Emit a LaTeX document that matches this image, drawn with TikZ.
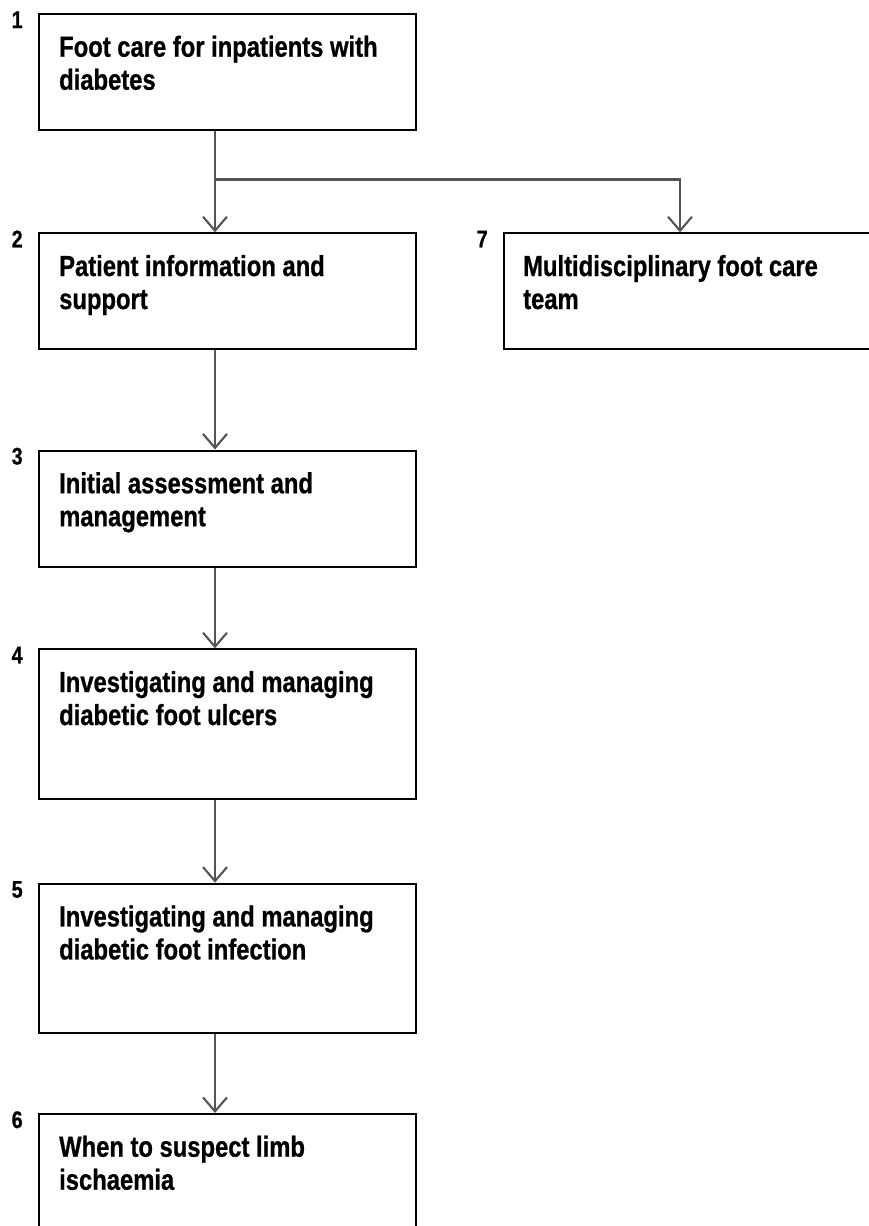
\documentclass[tikz,border=0pt]{standalone}
\usepackage{fontspec}
\setmainfont{Liberation Sans}[FakeStretch=0.82,BoldFeatures={FakeBold=0.8}]
\usetikzlibrary{arrows.meta,calc}
\definecolor{arrgray}{HTML}{555555}
\begin{document}
\begin{tikzpicture}[x=1pt,y=-1pt,
  box/.style={draw=black,line width=2pt,rectangle,inner sep=0pt,anchor=north west},
  boxtext/.style={anchor=north west,inner sep=0pt,align=left,
    font=\fontsize{29}{33}\selectfont\bfseries},
  numlabel/.style={anchor=base west,inner sep=0pt,font=\fontsize{24}{26}\selectfont\bfseries},
  arr/.style={draw=arrgray,line width=2.1pt,-{Straight Barb[length=14pt,width=24pt,line width=2.1pt]}},
  conn/.style={draw=arrgray,line width=2.1pt}]
\useasboundingbox (0,0) rectangle (869,1226);
\clip (0,0) rectangle (869,1226);
% boxes
\node[box,minimum width=377pt,minimum height=115.5pt] (b1) at (38,13) {};
\node[box,minimum width=377pt,minimum height=116pt] (b2) at (38,232.3) {};
\node[box,minimum width=400pt,minimum height=116pt] (b7) at (503,232.3) {};
\node[box,minimum width=377pt,minimum height=116pt] (b3) at (38,449.5) {};
\node[box,minimum width=377pt,minimum height=150pt] (b4) at (38,648.3) {};
\node[box,minimum width=377pt,minimum height=149pt] (b5) at (38,882.7) {};
\node[box,minimum width=377pt,minimum height=160pt] (b6) at (38,1113) {};
% texts
\node[boxtext] (t1) at ($(b1.north west)+(21,22.5)$) {Foot care for inpatients with\\diabetes};
\node[boxtext] (t2) at ($(b2.north west)+(21,22.5)$) {Patient information and\\support};
\node[boxtext] (t7) at ($(b7.north west)+(20,22.5)$) {Multidisciplinary foot care\\team};
\node[boxtext] (t3) at ($(b3.north west)+(21,22.5)$) {Initial assessment and\\management};
\node[boxtext] (t4) at ($(b4.north west)+(21,22.5)$) {Investigating and managing\\diabetic foot ulcers};
\node[boxtext] (t5) at ($(b5.north west)+(21,22.5)$) {Investigating and managing\\diabetic foot infection};
\node[boxtext] (t6) at ($(b6.north west)+(21,22.5)$) {When to suspect limb\\ischaemia};
% numbers
\node[numlabel] (n1) at ($(b1.north west)+(-26.5,15)$) {1};
\node[numlabel] (n2) at ($(b2.north west)+(-26.5,15)$) {2};
\node[numlabel] (n3) at ($(b3.north west)+(-26.5,15)$) {3};
\node[numlabel] (n4) at ($(b4.north west)+(-26.5,15)$) {4};
\node[numlabel] (n5) at ($(b5.north west)+(-26.5,15)$) {5};
\node[numlabel] (n6) at ($(b6.north west)+(-26.5,15)$) {6};
\node[numlabel] (n7) at ($(b7.north west)+(-26.5,15)$) {7};
% connectors
\coordinate (j) at (215,179.5);
\coordinate (k7) at ($(b7.north west)+(177,0)$);
\draw[conn] (b1.south -| j) -- (j);
\draw[arr] (j) -- (b2.north -| j);
\draw[arr] (j) -- (j -| k7) -- (k7);
\draw[arr] (b2.south -| j) -- (b3.north -| j);
\draw[arr] (b3.south -| j) -- (b4.north -| j);
\draw[arr] (b4.south -| j) -- (b5.north -| j);
\draw[arr] (b5.south -| j) -- (b6.north -| j);
\end{tikzpicture}
\end{document}
